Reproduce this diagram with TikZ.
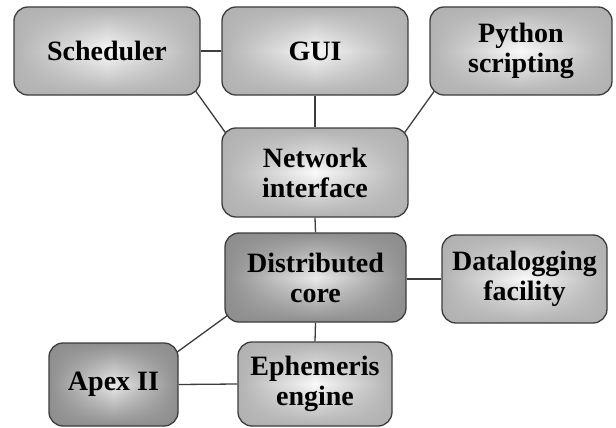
\documentclass[tikz,border=0pt]{standalone}
\usepackage{fontspec}
\setmainfont{Liberation Serif}
\usetikzlibrary{calc,fadings}
\pgfdeclarelayer{bg}
\pgfsetlayers{bg,main}
\definecolor{edgelight}{HTML}{B2B2B2}
\definecolor{edgedark}{HTML}{8E8E8E}
\definecolor{midlight}{HTML}{FAFAFA}
\definecolor{middark}{HTML}{EAEAEA}
\definecolor{border}{HTML}{3C3C3C}
\tikzfading[name=lrfade, left color=transparent!0, right color=transparent!0, middle color=transparent!100]
\tikzset{
  box/.style={draw=border, line width=1.3pt, rounded corners=14pt, inner sep=0pt,
    align=center, font=\fontsize{28}{30}\selectfont\bfseries,
    top color=edgelight, bottom color=edgelight, middle color=midlight,
    path picture={\fill[edgelight, path fading=lrfade] (path picture bounding box.south west) rectangle (path picture bounding box.north east);}},
  darkbox/.style={box, top color=edgedark, bottom color=edgedark, middle color=middark,
    path picture={\fill[edgedark, path fading=lrfade] (path picture bounding box.south west) rectangle (path picture bounding box.north east);}},
  link/.style={draw=border, line width=1.3pt}
}
\begin{document}
\begin{tikzpicture}[x=1pt,y=-1pt]
\useasboundingbox (0,0) rectangle (616,428);
\node[box, minimum width=186pt, minimum height=88pt] (sch) at (107,51) {Scheduler};
\node[box, minimum width=186pt, minimum height=88pt] (gui) at (315,51) {GUI};
\node[box, minimum width=182pt, minimum height=88pt] (py) at (521,51) {Python\\scripting};
\node[box, minimum width=186pt, minimum height=89pt] (net) at (315,172.5) {Network\\interface};
\node[darkbox, minimum width=181pt, minimum height=89pt] (core) at (315.5,277.5) {Distributed\\core};
\node[box, minimum width=165pt, minimum height=88pt] (dlog) at (524.5,279) {Datalogging\\facility};
\node[box, minimum width=154pt, minimum height=84pt] (eph) at (315,384) {Ephemeris\\engine};
\node[darkbox, minimum width=129pt, minimum height=83pt] (apex) at (113.5,384.5) {Apex II};
\begin{pgfonlayer}{bg}
\fill[white] (0,0) rectangle (616,428);
\draw[link] (sch.east) -- (gui.west);
\draw[link] (gui.south) -- (net.north);
\draw[link] ($(sch.south east)+(-6,-6)$) -- ($(net.north west)+(6,8)$);
\draw[link] ($(py.south west)+(6,-6)$) -- ($(net.north east)+(-6,8)$);
\draw[link] (net.south) -- (core.north);
\draw[link] (core.east |- dlog.west) -- (dlog.west);
\draw[link] (core.south) -- (eph.north);
\draw[link] ($(core.south west)+(7,-10)$) -- ($(apex.north east)+(-6,13)$);
\draw[link] (apex.east) -- (eph.west);
\end{pgfonlayer}
\end{tikzpicture}
\end{document}
